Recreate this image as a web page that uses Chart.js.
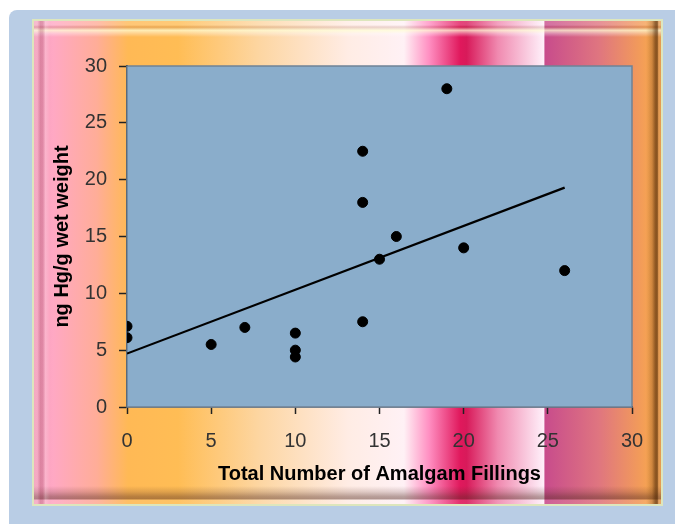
<!DOCTYPE html>
<html>
<head>
<meta charset="utf-8">
<script src="https://cdn.jsdelivr.net/npm/chart.js@4/dist/chart.umd.min.js"></script>
<style>
  html, body { margin: 0; padding: 0; background: #fff; }
  #wrap { position: relative; width: 675px; height: 524px; overflow: hidden; }
  #panel { position: absolute; left: 9px; top: 10px; width: 680px; height: 520px;
    background: #b9cde5; border-radius: 8px 0 0 0; }
  #frame { position: absolute; left: 32px; top: 19px; width: 631px; height: 487px;
    box-sizing: border-box; border: 2px solid #dde6bd;
    background: linear-gradient(to right,
      #f29ab8 0%, #ffa8c4 3%, #ffad98 10%, #ffb955 15%, #ffbd55 23%, #fdd6a2 36%,
      #ffece4 50%, #fff1f5 59%, #ff8fc2 63%, #e0185c 68%, #d81a5a 69%,
      #f08ab0 74%, #fff0fa 81.3%, #c84c8c 81.5%, #df7580 90%, #f6a352 98%, #e09040 100%); }
  .bev { position: absolute; }
  #btop { left: 0; right: 0; top: 0; height: 16px;
    background: linear-gradient(to bottom, rgba(255,255,255,0.2) 0%, rgba(255,255,255,0.2) 25%,
      rgba(150,80,60,0.2) 38%, rgba(255,255,215,0.75) 58%, rgba(255,255,255,0.3) 80%, rgba(255,255,255,0) 100%); }
  #bbot { left: 0; right: 0; bottom: 0; height: 18px;
    background: linear-gradient(to top, rgba(255,255,255,0.1) 0%, rgba(255,255,255,0.1) 20%,
      rgba(80,40,30,0.45) 30%, rgba(80,40,30,0.4) 42%, rgba(80,40,30,0.18) 68%, rgba(0,0,0,0) 100%); }
  #bleft { left: 0; top: 0; bottom: 0; width: 16px;
    background: linear-gradient(to right, rgba(255,255,255,0.15) 0%, rgba(255,255,255,0.15) 20%,
      rgba(150,60,90,0.28) 40%, rgba(150,60,90,0.25) 55%, rgba(255,255,255,0.2) 72%, rgba(255,255,255,0) 100%); }
  #bright { right: 0; top: 0; bottom: 0; width: 15px;
    background: linear-gradient(to left, rgba(255,255,255,0.1) 0%, rgba(255,255,255,0.1) 15%,
      rgba(70,35,5,0.6) 25%, rgba(70,35,5,0.55) 38%, rgba(90,50,10,0.22) 60%, rgba(0,0,0,0) 100%); }
  canvas { position: absolute; left: 0; top: 0; }
</style>
</head>
<body>
<div id="wrap">
  <div id="panel"></div>
  <div id="frame">
    <div class="bev" id="btop"></div>
    <div class="bev" id="bbot"></div>
    <div class="bev" id="bleft"></div>
    <div class="bev" id="bright"></div>
  </div>
  <canvas id="myChart" width="675" height="524"></canvas>
</div>
<script>
// number of amalgam fillings vs mercury level
const fillings = [0, 0, 5, 7, 10, 10, 10, 14, 14, 14, 15, 16, 19, 20, 26];
const mercury = [7.1, 6.1, 5.5, 7.0, 6.5, 5.0, 4.4, 22.5, 18.0, 7.5, 13.0, 15.0, 28.0, 14.0, 12.0];
// trend line as drawn on the picture
const trendX = [0, 26];
const trendY = [4.7, 19.3];
const xTicks = [0, 5, 10, 15, 20, 25, 30];
const yTicks = [0, 5, 10, 15, 20, 25, 30];

const plotArea = {
  id: "plotArea",
  beforeDatasetsDraw(chart) {
    const { ctx, chartArea: a } = chart;
    ctx.save();
    ctx.fillStyle = "#8aadcb";
    ctx.fillRect(a.left, a.top, a.right - a.left, a.bottom - a.top);
    ctx.strokeStyle = "#6f8296";
    ctx.lineWidth = 1.5;
    ctx.strokeRect(a.left, a.top, a.right - a.left, a.bottom - a.top);
    ctx.restore();
  }
};

const tickFont = { family: "Liberation Sans", size: 20 };
const titleFont = { family: "Liberation Sans", size: 20, weight: "bold" };

new Chart("myChart", {
  type: "scatter",
  data: {
    datasets: [{
      data: fillings.map((x, i) => ({ x: x, y: mercury[i] })),
      backgroundColor: "#000",
      borderColor: "#000",
      pointRadius: 5,
      pointHoverRadius: 5
    }, {
      type: "line",
      data: trendX.map((x, i) => ({ x: x, y: trendY[i] })),
      borderColor: "#000",
      borderWidth: 2.2,
      pointRadius: 0,
      fill: false
    }]
  },
  options: {
    responsive: false,
    animation: false,
    events: [],
    layout: { padding: { left: 40, top: 66, right: 43, bottom: 37 } },
    plugins: { legend: { display: false }, tooltip: { enabled: false } },
    scales: {
      x: {
        type: "linear", min: 0, max: 30,
        afterBuildTicks: s => { s.ticks = xTicks.map(v => ({ value: v })); },
        afterFit: s => { s.height = 80; },
        ticks: { color: "#333", font: tickFont, padding: 15, maxRotation: 0 },
        grid: { drawOnChartArea: false, tickLength: 7, color: "#222", tickWidth: 1.5 },
        border: { color: "#222", width: 1.5 },
        title: { display: true, text: "Total Number of Amalgam Fillings", color: "#000",
                 font: titleFont, padding: { top: 0, bottom: 1 } }
      },
      y: {
        min: 0, max: 30,
        afterBuildTicks: s => { s.ticks = yTicks.map(v => ({ value: v })); },
        afterFit: s => { s.width = 87; },
        ticks: { color: "#333", font: tickFont, padding: 12 },
        grid: { drawOnChartArea: false, tickLength: 8, color: "#222", tickWidth: 1.5 },
        border: { color: "#222", width: 2 },
        title: { display: true, text: "ng Hg/g wet weight", color: "#000",
                 font: titleFont, padding: { top: 10, bottom: 0 } }
      }
    }
  },
  plugins: [plotArea]
});
</script>
</body>
</html>
